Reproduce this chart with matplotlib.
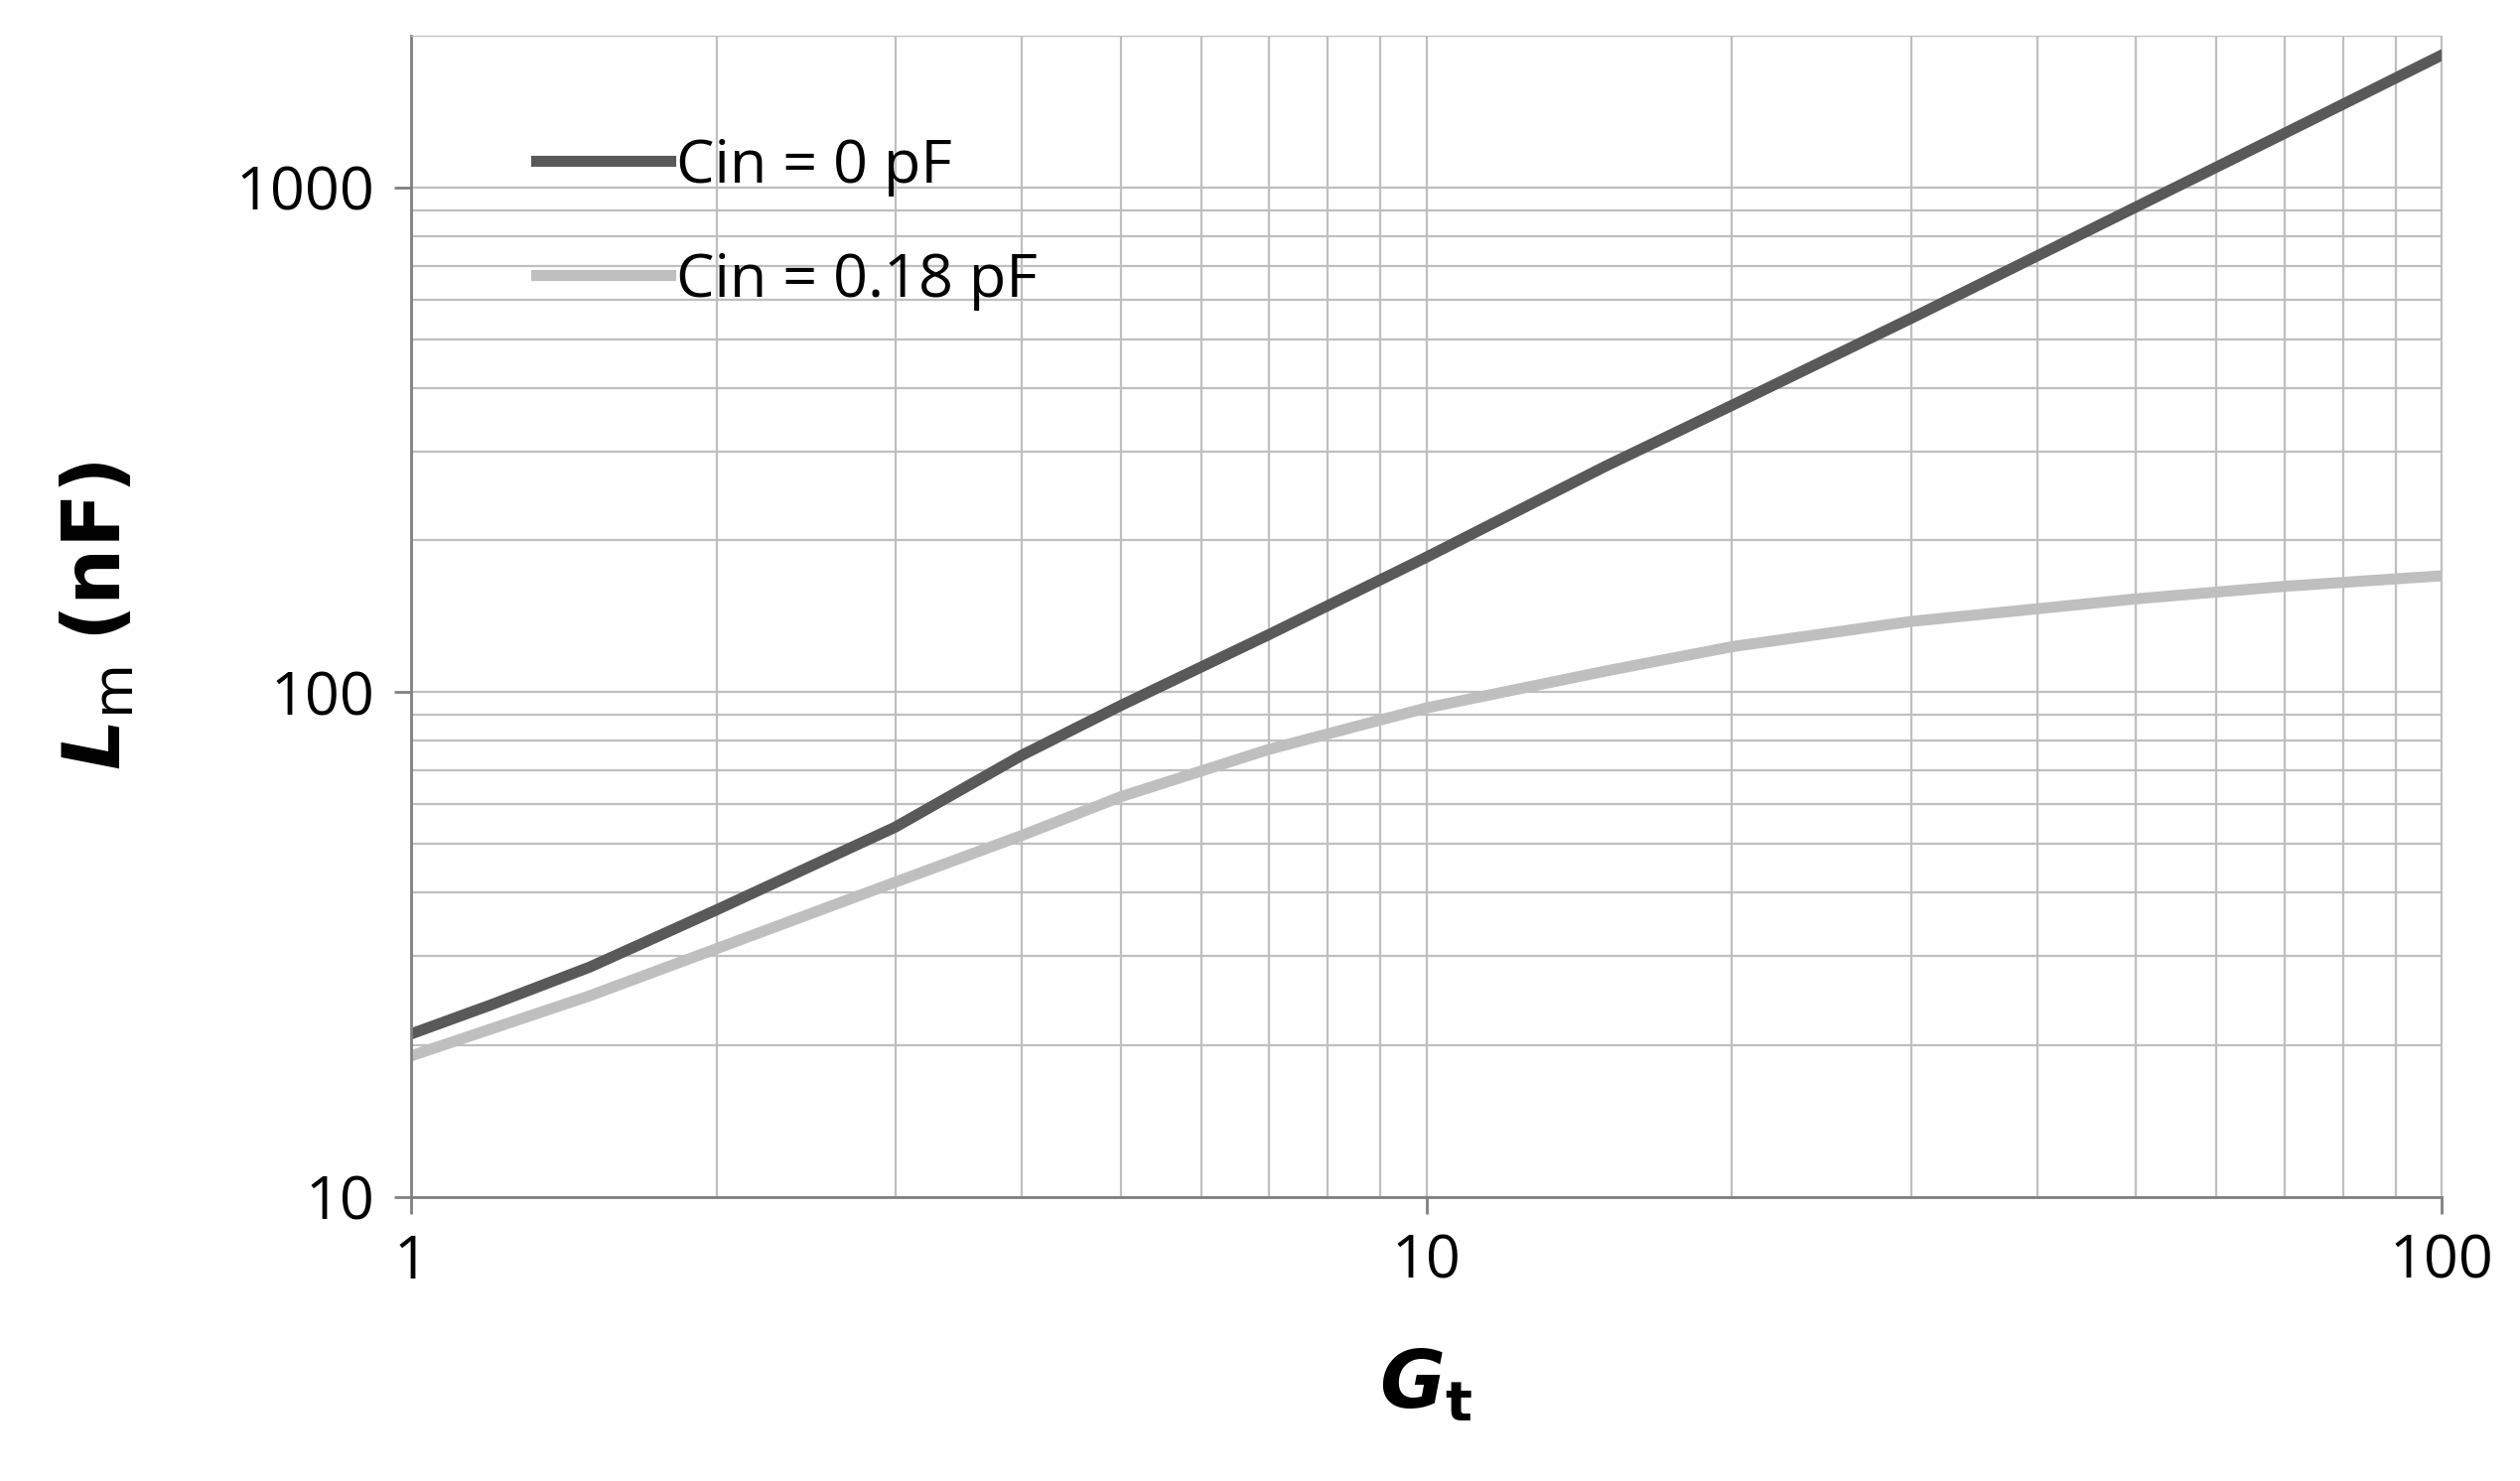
import matplotlib
matplotlib.use("Agg")
import matplotlib.pyplot as plt
from matplotlib.ticker import FixedLocator, NullFormatter, FixedFormatter

plt.rcParams['font.family'] = ['Open Sans', 'DejaVu Sans']

gt = [1, 1.2, 1.5, 2, 3, 4, 5, 7, 10, 15, 20, 30, 50, 70, 100]
lm_cin0 = [21, 24, 28.5, 37, 54, 75, 94, 130, 185, 280, 370, 550, 915, 1280, 1830]
lm_cin018 = [19, 21.5, 25, 31, 42, 52, 62, 77, 93, 110, 123, 138, 153, 162, 170]

fig = plt.figure(figsize=(25.38, 14.92), dpi=100)
ax = fig.add_axes([0.163, 0.192, 0.806, 0.784])
ax.set_xscale("log")
ax.set_yscale("log")
ax.set_xlim(1, 100)
ax.set_ylim(10, 2000)

ax.plot(gt, lm_cin0, color="#595959", lw=8, label="Cin = 0 pF")
ax.plot(gt, lm_cin018, color="#bfbfbf", lw=8, label="Cin = 0.18 pF")

ax.xaxis.set_major_locator(FixedLocator([1, 10, 100]))
ax.xaxis.set_major_formatter(FixedFormatter(["1", "10", "100"]))
ax.yaxis.set_major_locator(FixedLocator([10, 100, 1000]))
ax.yaxis.set_major_formatter(FixedFormatter(["10", "100", "1000"]))
ax.xaxis.set_minor_formatter(NullFormatter())
ax.yaxis.set_minor_formatter(NullFormatter())
ax.grid(True, which="both", color="#bfbfbf", lw=1.6)
ax.set_axisbelow(True)
for s in ["top", "right"]:
    ax.spines[s].set_color("#bfbfbf")
for s in ["left", "bottom"]:
    ax.spines[s].set_color("#808080")
    ax.spines[s].set_linewidth(2)
ax.tick_params(which="both", length=0, labelsize=44, pad=14)
ax.tick_params(which="major", length=12, direction="out", color="#808080", width=2)

ax.set_xlabel(r"$\boldsymbol{G}_\mathbf{t}$", fontsize=58, labelpad=40)
ax.set_ylabel(r"$\boldsymbol{L}_\mathrm{m}$ $\mathbf{(nF)}$", fontsize=58, labelpad=70)

ax.legend(loc="upper left", frameon=False, fontsize=44, handlelength=2.2,
          handletextpad=0.1, labelspacing=0.9, bbox_to_anchor=(0.035, 0.96))

fig.savefig("out.png", dpi=100, facecolor="white")
